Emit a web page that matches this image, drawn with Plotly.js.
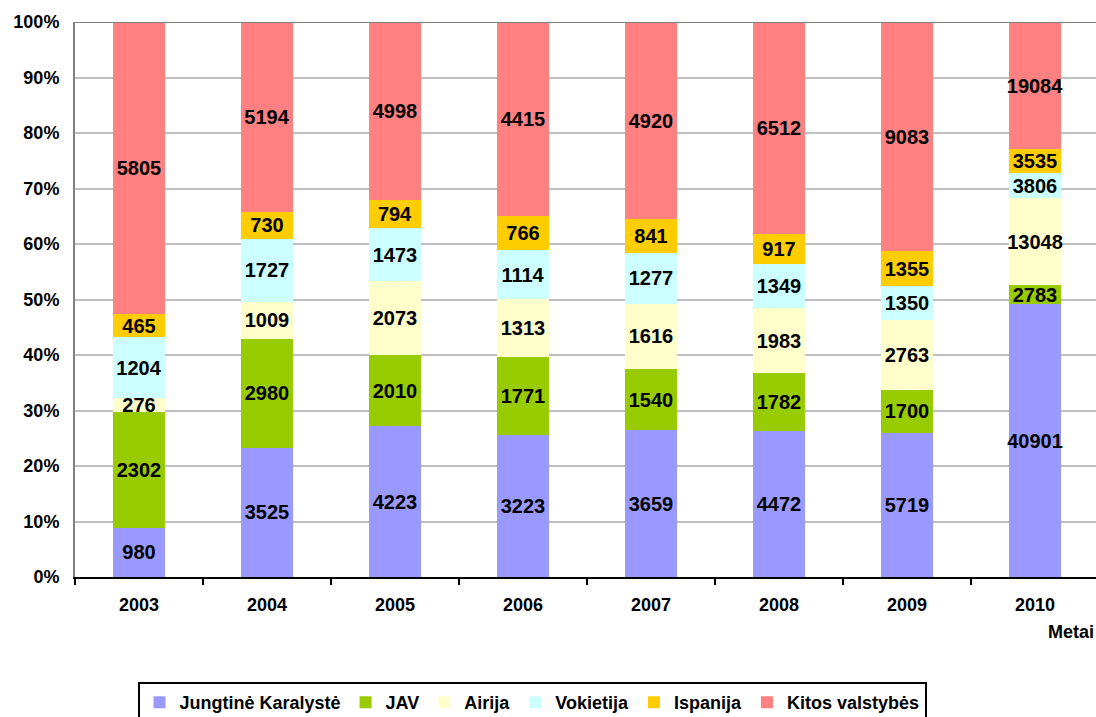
<!DOCTYPE html>
<html>
<head>
<meta charset="utf-8">
<script src="https://cdn.plot.ly/plotly-3.0.1.min.js"></script>
<style>html,body{margin:0;padding:0;background:#fff;}#chart{width:1096px;height:717px;}</style>
</head>
<body>
<div id="chart"></div>
<script>
const years = ["2003", "2004", "2005", "2006", "2007", "2008", "2009", "2010"];
const seriesNames = ["Jungtinė Karalystė", "JAV", "Airija", "Vokietija", "Ispanija", "Kitos valstybės"];
const jungtineKaralyste = [980, 3525, 4223, 3223, 3659, 4472, 5719, 40901];
const jav = [2302, 2980, 2010, 1771, 1540, 1782, 1700, 2783];
const airija = [276, 1009, 2073, 1313, 1616, 1983, 2763, 13048];
const vokietija = [1204, 1727, 1473, 1114, 1277, 1349, 1350, 3806];
const ispanija = [465, 730, 794, 766, 841, 917, 1355, 3535];
const kitosValstybes = [5805, 5194, 4998, 4415, 4920, 6512, 9083, 19084];
const yTicks = [0, 10, 20, 30, 40, 50, 60, 70, 80, 90, 100];

const seriesValues = [jungtineKaralyste, jav, airija, vokietija, ispanija, kitosValstybes];
const colors = ["#9999FF", "#99CC00", "#FFFFCC", "#CCFFFF", "#FFCC00", "#FF8080"];
const FONT = "Liberation Sans, Arial, sans-serif";

const traces = seriesValues.map((vals, i) => ({
  type: "bar",
  name: seriesNames[i],
  x: years,
  y: vals,
  text: vals.map(String),
  textposition: "inside",
  insidetextanchor: "middle",
  textangle: 0,
  constraintext: "none",
  textfont: {family: FONT, size: 20, color: "#000", weight: "bold"},
  marker: {color: colors[i], line: {width: 0}},
  hoverinfo: "skip"
}));

const plotW = 1096 - 75;
const layout = {
  width: 1096,
  height: 717,
  margin: {l: 75, r: 0, t: 22, b: 140, autoexpand: false},
  paper_bgcolor: "#fff",
  plot_bgcolor: "#fff",
  barmode: "stack",
  barnorm: "percent",
  bargap: 0.594,
  showlegend: true,
  hovermode: false,
  font: {family: FONT, color: "#000"},
  xaxis: {
    type: "category",
    range: [-0.5, -0.5 + plotW / 128],
    showgrid: false,
    showline: true,
    linecolor: "#000",
    linewidth: 2,
    ticks: "outside",
    tickson: "boundaries",
    ticklen: 6,
    tickwidth: 2,
    tickcolor: "#000",
    ticklabelstandoff: 10,
    tickfont: {family: FONT, size: 18, color: "#000", weight: "bold"},
    zeroline: false,
    automargin: false,
    fixedrange: true
  },
  yaxis: {
    range: [0, 100],
    tickvals: yTicks,
    ticktext: yTicks.map(v => v + "%"),
    showgrid: true,
    gridcolor: "#C0C0C0",
    gridwidth: 2,
    showline: true,
    linecolor: "#808080",
    linewidth: 2,
    ticks: "",
    ticklabelstandoff: 10,
    tickfont: {family: FONT, size: 18, color: "#000", weight: "bold"},
    zeroline: false,
    automargin: false,
    fixedrange: true
  },
  shapes: [{
    type: "line", xref: "paper", yref: "y", x0: 0, x1: 1, y0: 100, y1: 100,
    line: {color: "#808080", width: 2}, layer: "above"
  }],
  annotations: [{
    text: "Metai", xref: "paper", yref: "paper", x: 1, y: -(632 - 577) / 555,
    xanchor: "right", yanchor: "middle", showarrow: false,
    font: {family: FONT, size: 18, color: "#000", weight: "bold"}
  }],
  legend: {
    orientation: "h",
    xref: "container",
    yref: "container",
    x: 532 / 1096,
    xanchor: "center",
    y: (717 - 682) / 717,
    yanchor: "top",
    bordercolor: "#000",
    borderwidth: 2,
    bgcolor: "#fff",
    traceorder: "normal",
    itemclick: false,
    itemdoubleclick: false,
    font: {family: FONT, size: 18, color: "#000", weight: "bold"}
  }
};

Plotly.newPlot("chart", traces, layout, {displayModeBar: false, staticPlot: true});
</script>
</body>
</html>
